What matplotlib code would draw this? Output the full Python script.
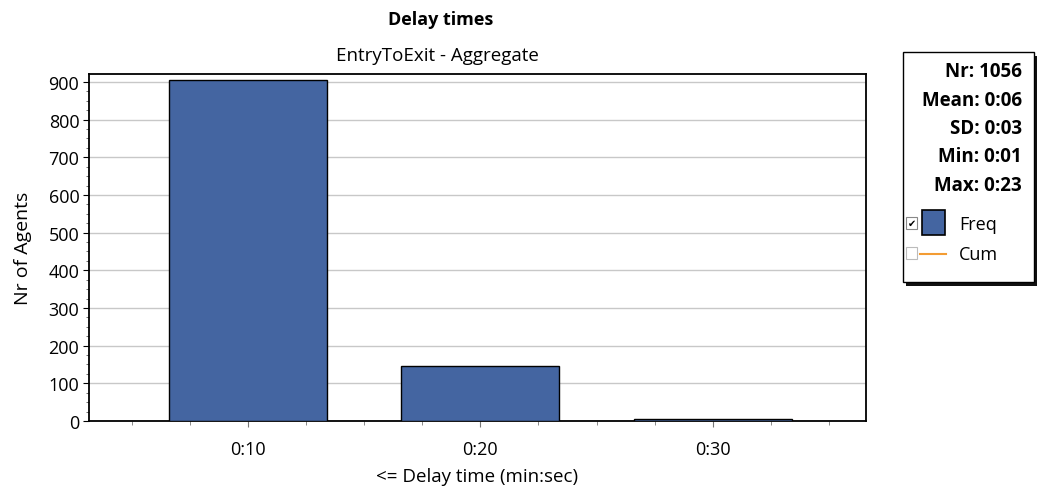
import matplotlib.pyplot as plt
from matplotlib.patches import Rectangle
from matplotlib.lines import Line2D
from matplotlib.ticker import MultipleLocator

plt.rcParams['font.family'] = ['Open Sans', 'DejaVu Sans']

categories = ['0:10', '0:20', '0:30']
agents = [905, 146, 5]
stats_lines = ['Nr: 1056', 'Mean: 0:06', 'SD: 0:03', 'Min: 0:01', 'Max: 0:23']

bar_color = '#4465a1'

fig = plt.figure(figsize=(10.4, 4.89), dpi=100)
ax = fig.add_axes([89 / 1040, 1 - 422 / 489, (866 - 89) / 1040, (422 - 75) / 489])

x = range(len(categories))
ax.bar(x, agents, width=0.68, color=bar_color, edgecolor='black', linewidth=1.0, zorder=3)

ax.set_xlim(-0.685, 2.66)
ax.set_ylim(0, 921)
ax.set_xticks(list(x))
ax.set_xticklabels(categories)
ax.xaxis.set_minor_locator(MultipleLocator(0.25))
ax.yaxis.set_major_locator(MultipleLocator(100))
ax.yaxis.set_minor_locator(MultipleLocator(25))
ax.tick_params(axis='y', labelsize=13, direction='out', length=4, width=0.8, pad=3)
ax.tick_params(axis='y', which='minor', direction='out', length=2.5, width=0.6, color='#555555')
ax.tick_params(axis='x', labelsize=13, direction='out', length=4, width=0.8, pad=10, color='#777777')
ax.tick_params(axis='x', which='minor', length=3, width=0.6, color='#777777')
ax.grid(axis='y', color='#c8c8c8', linewidth=1.0, zorder=0)
for s in ax.spines.values():
    s.set_linewidth(1.3)
    s.set_color('black')

ax.set_ylabel('Nr of Agents', fontsize=14, labelpad=12)
ax.set_xlabel('<= Delay time (min:sec)', fontsize=13.5, labelpad=6)

fig.text(441 / 1040, 1 - 20 / 489, 'Delay times', ha='center', va='center', fontsize=13, fontweight='bold')
fig.text(437 / 1040, 1 - 56 / 489, 'EntryToExit - Aggregate', ha='center', va='center', fontsize=13.5)

# legend / stats box
W, H = 1040, 489
shadow = Rectangle((906 / W, 1 - 287 / H), 131 / W, 230 / H, transform=fig.transFigure,
                   facecolor='#111111', edgecolor='none', zorder=1)
box = Rectangle((903 / W, 1 - 283 / H), 131 / W, 230 / H, transform=fig.transFigure,
                facecolor='white', edgecolor='black', linewidth=1.0, zorder=2)
fig.patches.extend([shadow, box])

for i, t in enumerate(stats_lines):
    fig.text(1022 / W, 1 - (72 + i * 28.5) / H, t, ha='right', va='center',
             fontsize=13.5, fontweight='bold', zorder=3)

# checkboxes
cb1 = Rectangle((906 / W, 1 - 230 / H), 11 / W, 12 / H, transform=fig.transFigure,
                facecolor='white', edgecolor='#888888', linewidth=0.8, zorder=3)
cb2 = Rectangle((906 / W, 1 - 260 / H), 11 / W, 12 / H, transform=fig.transFigure,
                facecolor='white', edgecolor='#bbbbbb', linewidth=0.8, zorder=3)
sw = Rectangle((922 / W, 1 - 236 / H), 23 / W, 25 / H, transform=fig.transFigure,
               facecolor=bar_color, edgecolor='black', linewidth=1.2, zorder=3)
fig.patches.extend([cb1, cb2, sw])
fig.text(911.5 / W, 1 - 224 / H, '✔', ha='center', va='center', fontsize=7,
         family=['DejaVu Sans'], zorder=4)
fig.lines.append(Line2D([920 / W, 946 / W], [1 - 255 / H, 1 - 255 / H], transform=fig.transFigure,
                        color='#f39c33', linewidth=1.5, zorder=3))
fig.text(959 / W, 1 - 225 / H, 'Freq', ha='left', va='center', fontsize=13, zorder=3)
fig.text(959 / W, 1 - 255 / H, 'Cum', ha='left', va='center', fontsize=13, zorder=3)

fig.savefig('out.png', dpi=100)
